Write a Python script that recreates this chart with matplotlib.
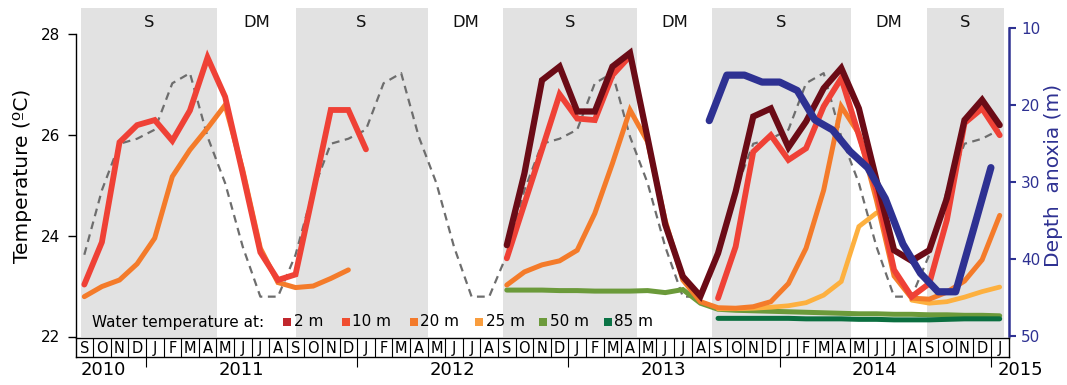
import numpy as np
import matplotlib
matplotlib.use("Agg")
import matplotlib.pyplot as plt
from matplotlib.patches import Rectangle
import matplotlib.transforms as mtransforms

nan = np.nan

# ---------------- data ----------------
months = list("SOND" + "JFMAMJJASOND" * 4 + "J")          # Sep 2010 .. Jan 2015
years = ["2010", "2011", "2012", "2013", "2014", "2015"]
year_label_pos = [1.07, 8.9, 20.9, 32.9, 44.9, 53.2]       # in month units
year_bounds = [3.5, 15.5, 27.5, 39.5, 51.5]

season_names = ["S", "DM", "S", "DM", "S", "DM", "S", "DM", "S"]
season_edges = [-0.2, 7.55, 12.0, 19.5, 23.8, 31.4, 35.65, 43.55, 47.85, 52.25]

air_clim = [23.62, 24.90, 25.82, 25.92,
            26.10, 27.02, 27.22, 25.96, 25.04, 23.78, 22.79, 22.79, 23.62, 24.90, 25.82, 25.92,
            26.10, 27.02, 27.22, 25.96, 25.04, 23.78, 22.79, 22.79, 23.62, 24.90, 25.82, 25.92,
            26.10, 27.02, 27.22, 25.96, 25.04, 23.78, 22.79, 22.79, 23.62, 24.90, 25.82, 25.92,
            26.10, 27.02, 27.22, 25.96, 25.04, 23.78, 22.79, 22.79, 23.62, 24.90, 25.82, 25.92,
            26.10]

t2m = [nan] * 24 + [23.81, 25.23, 27.08, 27.35, 26.46, 26.46, 27.35, 27.62, 25.93, 24.22, 23.19, 22.80,
                    23.65, 24.87, 26.36, 26.52, 25.75, 26.26, 26.92, 27.32, 26.52, 25.10, 23.71, 23.50,
                    23.71, 24.74, 26.29, 26.69, 26.19]

t10m = [23.03, 23.87, 25.85, 26.19, 26.29, 25.88, 26.48, 27.53, 26.75, 25.23, 23.67, 23.12,
        23.23, 24.85, 26.49, 26.49, 25.71, nan, nan, nan, nan, nan, nan, nan,
        23.55, 24.63, 25.71, 26.80, 26.32, 26.29, 27.18, 27.56, nan, nan, nan, nan,
        22.76, 23.78, 25.66, 25.99, 25.50, 25.73, 26.56, 27.12, 25.99, 24.90, 23.32, 22.79,
        23.05, 24.31, 26.23, 26.52, 25.99]

t20m = [22.79, 22.99, 23.12, 23.44, 23.95, 25.17, 25.70, 26.13, 26.59, 25.30, 23.75, 23.07,
        22.97, 23.00, 23.15, 23.32, nan, nan, nan, nan, nan, nan, nan, nan,
        23.02, 23.28, 23.42, 23.50, 23.71, 24.44, 25.43, 26.49, 25.86, 24.30, 23.12, 22.69,
        22.57, 22.56, 22.59, 22.69, 23.05, 23.75, 24.90, 26.56, 26.02, 24.70, 23.20, 22.76,
        22.74, 22.88, 23.10, 23.52, 24.40]

t25m = [nan] * 36 + [22.55, 22.55, 22.56, 22.58, 22.61, 22.67, 22.82, 23.09, 24.18, 24.45, nan, 22.72,
                     22.66, 22.69, 22.78, 22.89, 22.98]

t50m = [nan] * 24 + [22.92, 22.92, 22.92, 22.91, 22.91, 22.90, 22.90, 22.90, 22.91, 22.87, 22.93, 22.66,
                     22.54, 22.52, 22.51, 22.50, 22.49, 22.48, 22.47, 22.46, 22.45, 22.45, 22.44, 22.44,
                     22.43, 22.43, 22.42, 22.42, 22.41]

t85m = [nan] * 36 + [22.36, 22.36, 22.36, 22.36, 22.36, 22.35, 22.35, 22.35, 22.34, 22.34, 22.33, 22.33,
                     22.33, 22.34, 22.35, 22.35, 22.35]

anoxia_depth = [22.0, 16.1, 16.1, 17.0, 17.0, 18.1, 21.9, 23.2, 26.0, 28.1, 32.1, 38.0, 41.8,
                44.2, 44.2, 36.2, 28.1]
anoxia_first_month = 35   # Aug 2013, plotted at month boundaries

depth_labels = ["2 m", "10 m", "20 m", "25 m", "50 m", "85 m"]
legend_colors = ["#c1272d", "#f04e30", "#f37a2b", "#f99d3e", "#6c9a3b", "#0a7345"]
line_colors = ["#6b0b16", "#ef4136", "#f47b2a", "#fdb03f", "#6b9a3a", "#0b6f40"]
blue = "#2e3192"

# ---------------- figure ----------------
W, H = 1067, 385
plt.rcParams['font.family'] = ['DejaVu Sans']
fig = plt.figure(figsize=(W / 100, H / 100), dpi=100)


def fx(px):
    return px / W


def fy(py):
    return 1 - py / H


ax_l, ax_r, ax_t, ax_b = 75.5, 1008.5, 8.0, 336.5
ax = fig.add_axes([fx(ax_l), fy(ax_b), (ax_r - ax_l) / W, (ax_b - ax_t) / H])
x = np.arange(len(months))

ax.set_xlim(-0.5, len(months) - 0.5)
ax.set_ylim(22, 22 + (ax_b - ax_t) / 50.45)

# seasons shading and labels
trans = mtransforms.blended_transform_factory(ax.transData, ax.transAxes)
for k, name in enumerate(season_names):
    a, b = season_edges[k], season_edges[k + 1]
    if name == "S":
        ax.axvspan(a, b, color="#e2e2e2", lw=0, zorder=0)
    ax.text((a + b) / 2, 0.957, name, transform=trans, ha="center", va="center",
            fontsize=11.8, color="#111111")

ax.plot(x, air_clim, color="#6d6d6d", lw=1.6, ls=(0, (3.5, 2.5)), zorder=2)
series = [t2m, t10m, t20m, t25m, t50m, t85m]
widths = [4.5, 4.2, 3.6, 3.4, 3.6, 3.6]
zorders = [9, 8, 7, 6, 4, 5]
for s, c, w, z in zip(series, line_colors, widths, zorders):
    ax.plot(x, s, color=c, lw=w, zorder=z, solid_capstyle="round", solid_joinstyle="miter")

for sp in ["top", "right", "bottom"]:
    ax.spines[sp].set_visible(False)
ax.spines["left"].set_bounds(22, 28)
ax.spines["left"].set_linewidth(1.0)
ax.set_yticks([22, 24, 26, 28])
ax.set_xticks([])
ax.tick_params(axis="y", direction="out", length=5.5, width=1, labelsize=11, pad=5.5)
ax.set_ylabel("Temperature (ºC)", fontsize=14.5)
ax.yaxis.set_label_coords(-0.047, 0.49)

# right axis: depth of anoxia
ax2 = ax.twinx()
ax2.set_ylim(50, 50 - (ax_b - ax_t) / 7.71)
xa = np.arange(len(anoxia_depth)) + anoxia_first_month + 0.5
ax2.plot(xa, anoxia_depth, color=blue, lw=5.2, solid_capstyle="round", zorder=10)
for sp in ["top", "left", "bottom"]:
    ax2.spines[sp].set_visible(False)
ax2.spines["right"].set_bounds(10, 50)
ax2.spines["right"].set_color(blue)
ax2.spines["right"].set_linewidth(1.8)
ax2.set_yticks([10, 20, 30, 40, 50])
ax2.tick_params(axis="y", direction="out", length=5, width=1.5, colors=blue, labelsize=11, pad=4)
ax2.set_ylabel("Depth  anoxia (m)", fontsize=14.5, color=blue, rotation=90)
ax2.yaxis.set_label_coords(1.038, 0.49)

# ---------------- month boxes ----------------
mb_top, mb_bot = 338.0, 357.0
axm = fig.add_axes([fx(ax_l), fy(mb_bot), (ax_r - ax_l) / W, (mb_bot - mb_top) / H])
axm.set_xlim(-0.5, len(months) - 0.5)
axm.set_ylim(0, 1)
axm.set_xticks([])
axm.set_yticks([])
for sp in axm.spines.values():
    sp.set_linewidth(1.0)
axm.vlines(x[:-1] + 0.5, 0, 1, color="black", lw=0.8)
for i, m in enumerate(months):
    axm.text(i, 0.45, m, ha="center", va="center", fontsize=10.5)
axm.vlines(year_bounds, -0.55, 0, color="black", lw=0.8, clip_on=False)
for yl, xp in zip(years, year_label_pos):
    axm.text(xp, -0.7, yl, ha="center", va="center", fontsize=13, clip_on=False)

# ---------------- legend ----------------
leg_y = 322.0
fig.text(fx(92.5), fy(leg_y), "Water temperature at:", fontsize=11, va="center", ha="left")
sq_x = [283.4, 342.0, 409.8, 475.3, 539.0, 603.7]
for lab, c, sx in zip(depth_labels, legend_colors, sq_x):
    fig.patches.append(Rectangle((fx(sx), fy(leg_y + 4)), 8 / W, 8 / H, transform=fig.transFigure,
                                 facecolor=c, edgecolor="none"))
    fig.text(fx(sx + 10.5), fy(leg_y), lab, fontsize=11, va="center", ha="left")

fig.savefig("out.png", dpi=100)
